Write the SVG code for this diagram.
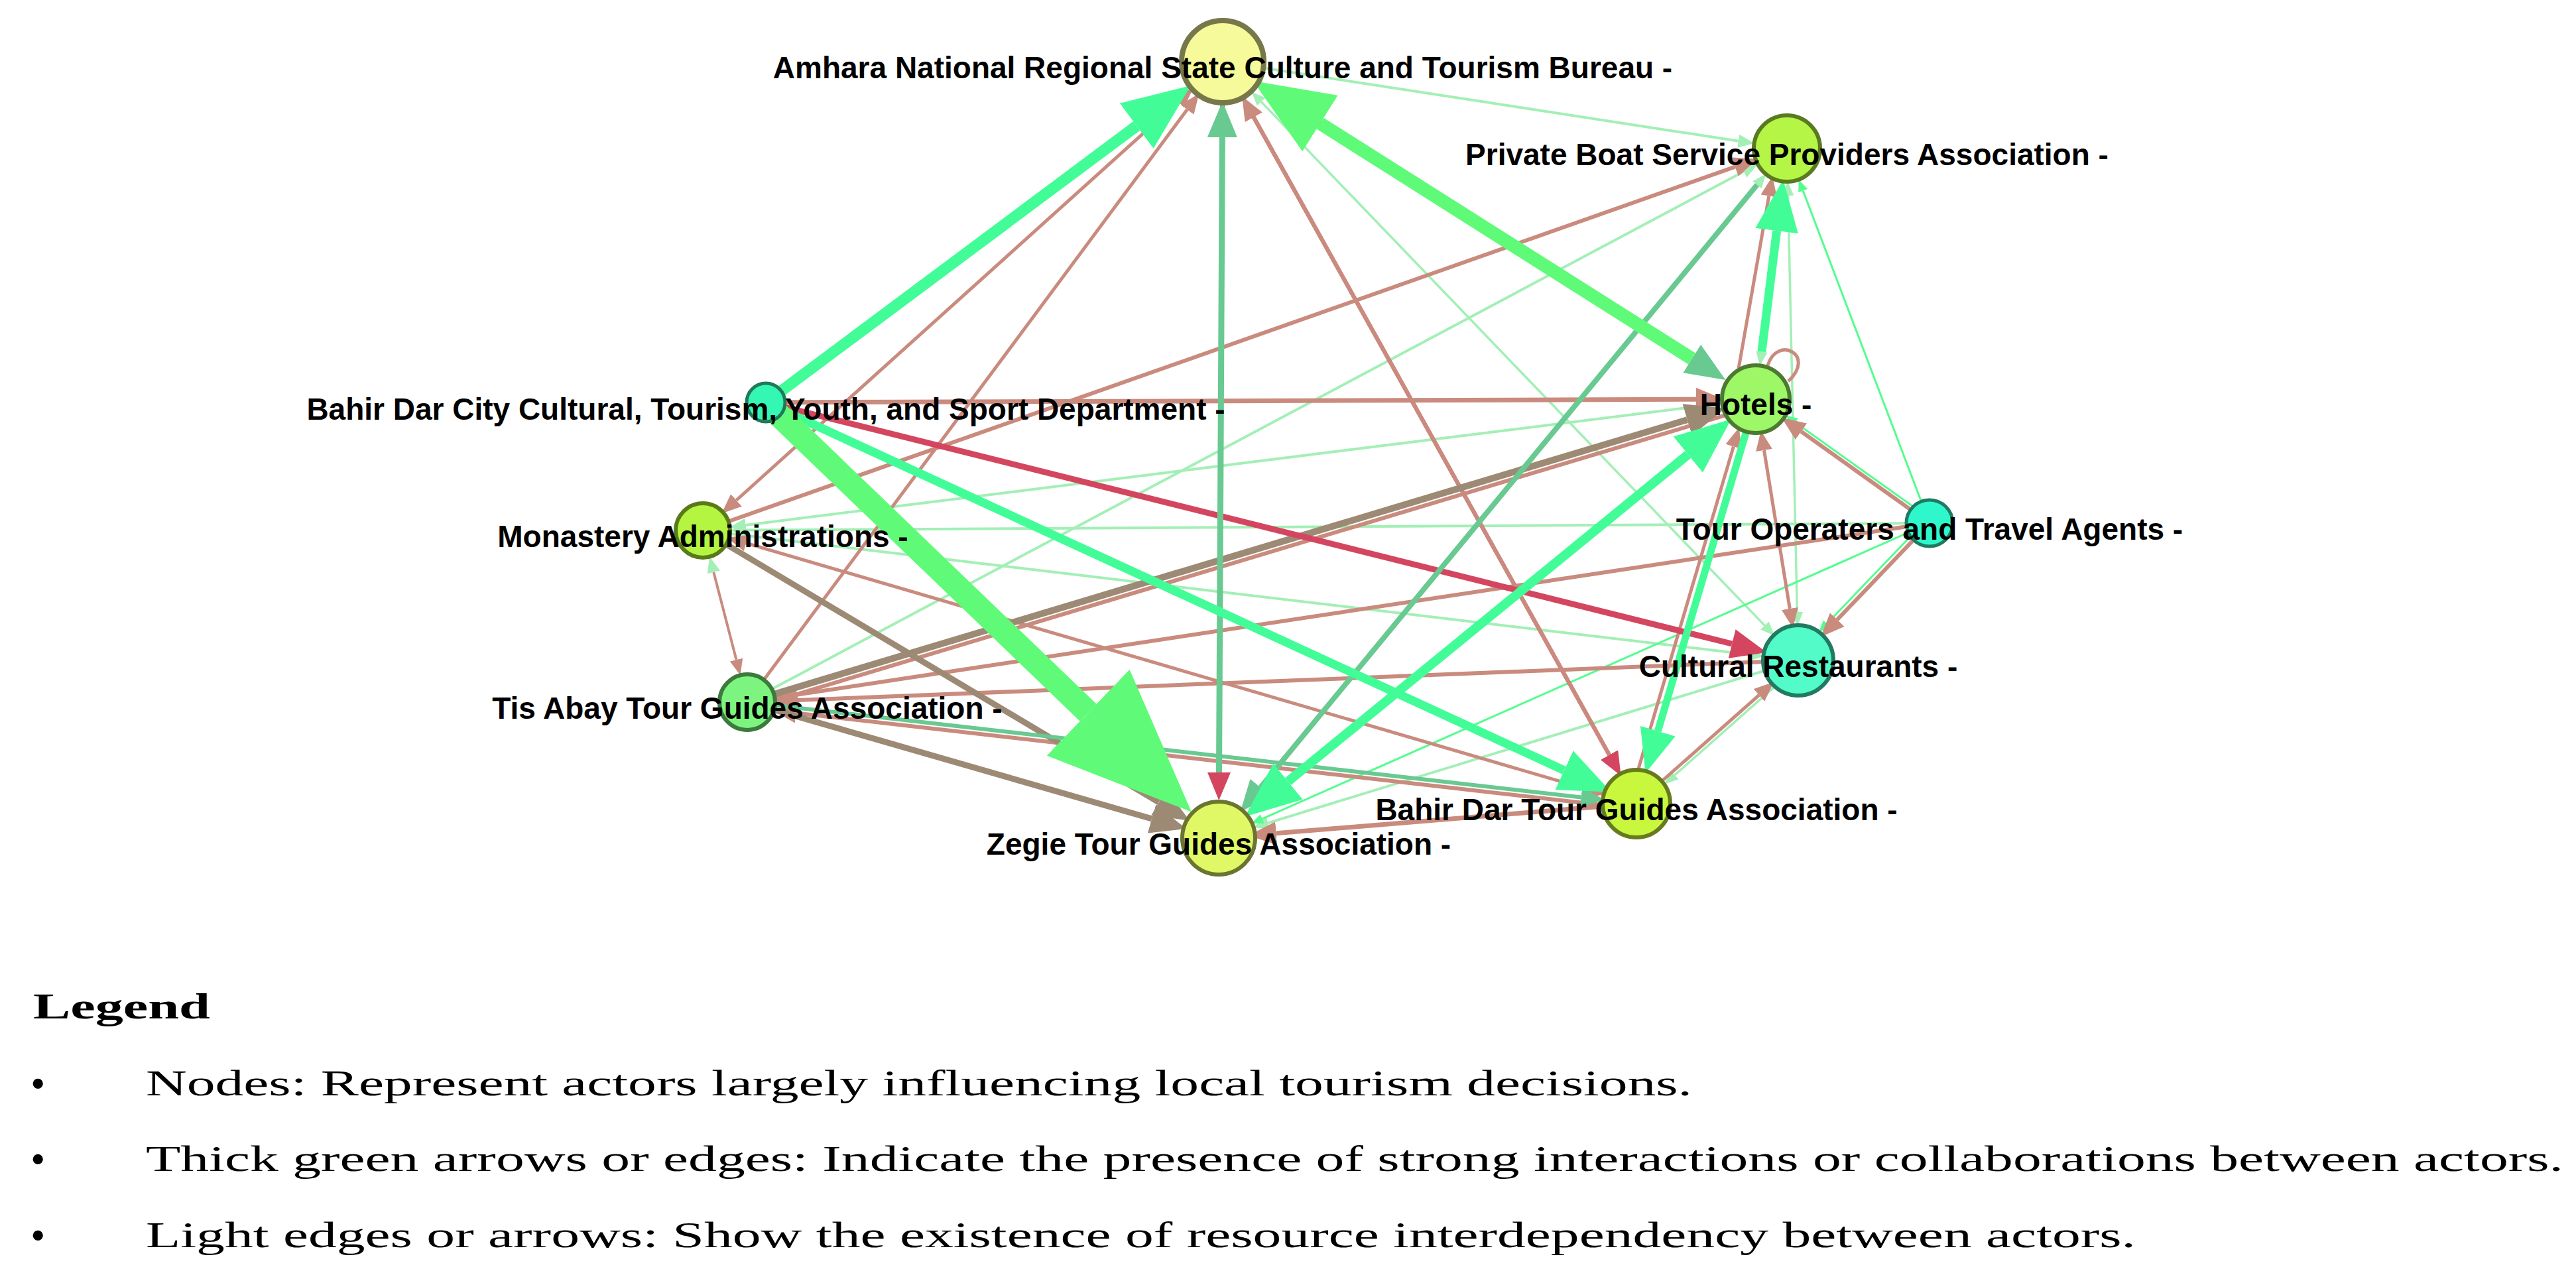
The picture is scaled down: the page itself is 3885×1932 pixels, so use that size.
<svg xmlns="http://www.w3.org/2000/svg" width="3885" height="1932" viewBox="0 0 3885 1932">
<style>
.e{fill:none;stroke-linecap:butt}
.g1{stroke:#42fd97}.g2{stroke:#5ffb78}.g3{stroke:#68c991}.g4{stroke:#a3efb6}.g5{stroke:#55fd8f}
.s{stroke:#c98b7e}.k{stroke:#d4465f}.ta{stroke:#9d8a75}
.lbl{font-family:"Liberation Sans",Arial,sans-serif;font-weight:bold;font-size:46px;fill:#000;text-anchor:middle}
.leg{font-family:"Liberation Serif","Times New Roman",serif;font-size:54px;fill:#000}
.bul{font-family:"Liberation Serif","Times New Roman",serif;font-size:64px;fill:#000}
</style>
<defs>
<marker id="aG1" viewBox="0 0 6 5" refX="0" refY="2.5" markerWidth="6" markerHeight="5" markerUnits="strokeWidth" orient="auto-start-reverse"><path d="M0,0L6,2.5L0,5z" fill="#42fd97"/></marker>
<marker id="aG2" viewBox="0 0 6 5" refX="0" refY="2.5" markerWidth="6" markerHeight="5" markerUnits="strokeWidth" orient="auto-start-reverse"><path d="M0,0L6,2.5L0,5z" fill="#5ffb78"/></marker>
<marker id="aG3" viewBox="0 0 6 5" refX="0" refY="2.5" markerWidth="6" markerHeight="5" markerUnits="strokeWidth" orient="auto-start-reverse"><path d="M0,0L6,2.5L0,5z" fill="#68c991"/></marker>
<marker id="aG4" viewBox="0 0 6 5" refX="0" refY="2.5" markerWidth="6" markerHeight="5" markerUnits="strokeWidth" orient="auto-start-reverse"><path d="M0,0L6,2.5L0,5z" fill="#a3efb6"/></marker>
<marker id="aG5" viewBox="0 0 6 5" refX="0" refY="2.5" markerWidth="6" markerHeight="5" markerUnits="strokeWidth" orient="auto-start-reverse"><path d="M0,0L6,2.5L0,5z" fill="#55fd8f"/></marker>
<marker id="aS" viewBox="0 0 6 5" refX="0" refY="2.5" markerWidth="6" markerHeight="5" markerUnits="strokeWidth" orient="auto-start-reverse"><path d="M0,0L6,2.5L0,5z" fill="#c98b7e"/></marker>
<marker id="aK" viewBox="0 0 6 5" refX="0" refY="2.5" markerWidth="6" markerHeight="5" markerUnits="strokeWidth" orient="auto-start-reverse"><path d="M0,0L6,2.5L0,5z" fill="#d4465f"/></marker>
<marker id="aTa" viewBox="0 0 6 5" refX="0" refY="2.5" markerWidth="6" markerHeight="5" markerUnits="strokeWidth" orient="auto-start-reverse"><path d="M0,0L6,2.5L0,5z" fill="#9d8a75"/></marker>
</defs>
<rect width="3885" height="1932" fill="#ffffff"/>
<g id="edges">
<!-- pale green -->
<path class="e g4" stroke-width="3.5" d="M1902.2,153.6L2661.4,943.4" marker-start="url(#aG4)" marker-end="url(#aG4)"/>
<path class="e g4" stroke-width="4" d="M1844,93L2621.9,212.7" marker-end="url(#aG4)"/>
<path class="e g4" stroke-width="4" d="M1127,1059L2629.7,258.8" marker-end="url(#aG4)"/>
<path class="e g4" stroke-width="3.5" d="M1838,1264L2649.9,278.8" marker-end="url(#aG4)"/>
<path class="e g4" stroke-width="3.5" d="M2695,224L2656.9,530.5" marker-end="url(#aG4)"/>
<path class="e g4" stroke-width="3.5" d="M2696.6,295L2710.4,923" marker-start="url(#aG4)" marker-end="url(#aG4)"/>
<path class="e g4" stroke-width="4" d="M2648,602L1124.5,792" marker-end="url(#aG4)"/>
<path class="e g4" stroke-width="4" d="M2910,789L1125,799.6" marker-end="url(#aG4)"/>
<path class="e g4" stroke-width="4" d="M1060,800L2636.5,987" marker-end="url(#aG4)"/>
<path class="e g4" stroke-width="4" d="M2712,996L1912.6,1241.1" marker-end="url(#aG4)"/>
<path class="e g4" stroke-width="3.5" d="M2716,1000.5L2525.9,1168.8" marker-end="url(#aG4)"/>
<!-- thin bright green -->
<path class="e g5" stroke-width="3" d="M2910,789L2719.2,287.6" marker-end="url(#aG5)"/>
<path class="e g5" stroke-width="3" d="M2913.5,784.1L2707.7,637.2" marker-end="url(#aG5)"/>
<path class="e g5" stroke-width="3" d="M2910,789L1903.8,1234.8" marker-end="url(#aG5)"/>
<path class="e g5" stroke-width="3" d="M2904.9,784.2L2755.3,940.6" marker-end="url(#aG5)"/>
<!-- salmon -->
<path class="e k" stroke-width="6" d="M1844,93L2427.1,1138.6" marker-end="url(#aK)"/>
<path class="e s" stroke-width="6" d="M2427.1,1138.6L1890.8,176.8" marker-end="url(#aS)"/>
<path class="e s" stroke-width="7" d="M1155,607L2558,602.3" marker-end="url(#aS)"/>
<path class="e s" stroke-width="5" d="M1110.5,754.5L1777.2,153.3" marker-start="url(#aS)" marker-end="url(#aS)"/>
<path class="e s" stroke-width="5" d="M1127,1059L1790.4,165.3" marker-end="url(#aS)"/>
<path class="e s" stroke-width="6" d="M1060,800L2616.7,251.6" marker-end="url(#aS)"/>
<path class="e s" stroke-width="5" d="M2622,556L2667.8,295.6" marker-end="url(#aS)"/>
<path class="e s" stroke-width="6" d="M2650.9,611.6L1201.7,1047" marker-end="url(#aS)"/>
<path class="e s" stroke-width="5" d="M2456.5,1208.6L2614.4,673.4" marker-end="url(#aS)"/>
<path class="e s" stroke-width="5" d="M2660.5,679L2699.3,918" marker-start="url(#aS)" marker-end="url(#aS)"/>
<path class="e s" stroke-width="6" d="M2910,789L2716.4,650.8" marker-end="url(#aS)"/>
<path class="e s" stroke-width="5" d="M2666,551C2680,505 2740,535 2697,575"/>
<path class="e s" stroke-width="5" d="M1125.3,819.1L2393.1,1190.1" marker-start="url(#aS)" marker-end="url(#aS)"/>
<path class="e s" stroke-width="4" d="M1076.3,862.9L1110.5,995.1" marker-start="url(#aG4)" marker-end="url(#aS)"/>
<path class="e s" stroke-width="6" d="M2467.1,1219.9L1200.6,1075.4" marker-end="url(#aS)"/>
<path class="e s" stroke-width="6" d="M2910,789L1201.2,1047.9" marker-end="url(#aS)"/>
<path class="e s" stroke-width="6" d="M2712,996L1201.9,1056" marker-end="url(#aS)"/>
<path class="e s" stroke-width="7" d="M2468,1212L1924.7,1256.8" marker-end="url(#aS)"/>
<path class="e s" stroke-width="5" d="M2468,1212L2652.9,1048.4" marker-end="url(#aS)"/>
<path class="e s" stroke-width="6" d="M2910,789L2770.8,934.6" marker-end="url(#aS)"/>
<!-- taupe -->
<path class="e ta" stroke-width="10" d="M1127,1059L2544.6,633.1" marker-end="url(#aTa)"/>
<path class="e ta" stroke-width="9" d="M1060,800L1747.8,1210.2" marker-end="url(#aTa)"/>
<path class="e ta" stroke-width="9" d="M1127,1059L1737.1,1234.9" marker-end="url(#aTa)"/>
<!-- crimson -->
<path class="e k" stroke-width="9" d="M1155,607L2612.1,971" marker-end="url(#aK)"/>
<path class="e k" stroke-width="7" d="M1844,93L1838.5,1165" marker-end="url(#aK)"/>
<!-- medium green -->
<path class="e g3" stroke-width="9" d="M1838.5,1165L1843.4,207" marker-end="url(#aG3)"/>
<path class="e g3" stroke-width="10" d="M1844,93L2551.7,541" marker-end="url(#aG3)"/>
<path class="e g3" stroke-width="8" d="M2649.9,278.8L1901,1187.6" marker-end="url(#aG3)"/>
<path class="e g3" stroke-width="6" d="M1127,1059L2384.5,1202.5" marker-end="url(#aG3)"/>
<!-- bright green -->
<path class="e g1" stroke-width="17" d="M1155,607L1714.2,189.9" marker-end="url(#aG1)"/>
<path class="e g1" stroke-width="13" d="M1155,607L2359,1161.8" marker-end="url(#aG1)"/>
<path class="e g1" stroke-width="13" d="M2656.9,530.5L2679.6,348.1" marker-end="url(#aG1)"/>
<path class="e g1" stroke-width="14" d="M1942.5,1178.6L2545.8,685.5" marker-start="url(#aG1)" marker-end="url(#aG1)"/>
<path class="e g1" stroke-width="11" d="M2648,602L2500.3,1102.7" marker-end="url(#aG1)"/>
<!-- light green thick -->
<path class="e g2" stroke-width="20" d="M2551.7,541L1991,186.1" marker-end="url(#aG2)"/>
<path class="e g2" stroke-width="36" d="M1155,607L1641.2,1074.7" marker-end="url(#aG2)"/>
</g>
<g id="node-amhara"><circle cx="1844" cy="93" r="62" fill="#f7fa9a" stroke="#77784a" stroke-width="8"/><text class="lbl" x="1844" y="118">Amhara National Regional State Culture and Tourism Bureau -</text></g>
<g id="node-boat"><circle cx="2695" cy="224" r="50" fill="#b5f545" stroke="#5a7a22" stroke-width="6"/><text class="lbl" x="2695" y="249">Private Boat Service Providers Association -</text></g>
<g id="node-hotels"><circle cx="2648" cy="602" r="51" fill="#9df766" stroke="#4d7a30" stroke-width="6"/><text class="lbl" x="2648" y="626">Hotels -</text></g>
<g id="node-city"><circle cx="1155" cy="607" r="29" fill="#33f7b3" stroke="#207a5a" stroke-width="5"/><text class="lbl" x="1155" y="633">Bahir Dar City Cultural, Tourism, Youth, and Sport Department -</text></g>
<g id="node-monastery"><circle cx="1060" cy="800" r="41" fill="#b3f540" stroke="#5a7a1a" stroke-width="6"/><text class="lbl" x="1060" y="825">Monastery Administrations -</text></g>
<g id="node-operators"><circle cx="2910" cy="789" r="35" fill="#2ef8cb" stroke="#1e7a62" stroke-width="5"/><text class="lbl" x="2910" y="814">Tour Operaters and Travel Agents -</text></g>
<g id="node-restaurants"><circle cx="2712" cy="996" r="53" fill="#52fbc8" stroke="#237a63" stroke-width="6"/><text class="lbl" x="2712" y="1021">Cultural Restaurants -</text></g>
<g id="node-tisabay"><circle cx="1127" cy="1059" r="42" fill="#7cf47f" stroke="#3c7a3e" stroke-width="6"/><text class="lbl" x="1127" y="1084">Tis Abay Tour Guides Association -</text></g>
<g id="node-zegie"><circle cx="1838" cy="1264" r="55" fill="#e0f866" stroke="#6c7530" stroke-width="6"/><text class="lbl" x="1838" y="1289">Zegie Tour Guides Association -</text></g>
<g id="node-bdtg"><circle cx="2468" cy="1212" r="51" fill="#c8f73e" stroke="#677a1e" stroke-width="6"/><text class="lbl" x="2468" y="1237">Bahir Dar Tour Guides Association -</text></g>
<g id="legend">
<text class="leg" x="50" y="1536" font-weight="bold" textLength="267" lengthAdjust="spacingAndGlyphs">Legend</text>
<text class="bul" x="46" y="1656">•</text>
<text class="leg" x="220" y="1652" textLength="2332" lengthAdjust="spacingAndGlyphs">Nodes: Represent actors largely influencing local tourism decisions.</text>
<text class="bul" x="46" y="1770">•</text>
<text class="leg" x="220" y="1766" textLength="3646" lengthAdjust="spacingAndGlyphs">Thick green arrows or edges: Indicate the presence of strong interactions or collaborations between actors.</text>
<text class="bul" x="46" y="1885">•</text>
<text class="leg" x="220" y="1881" textLength="3001" lengthAdjust="spacingAndGlyphs">Light edges or arrows: Show the existence of resource interdependency between actors.</text>
</g>
</svg>
